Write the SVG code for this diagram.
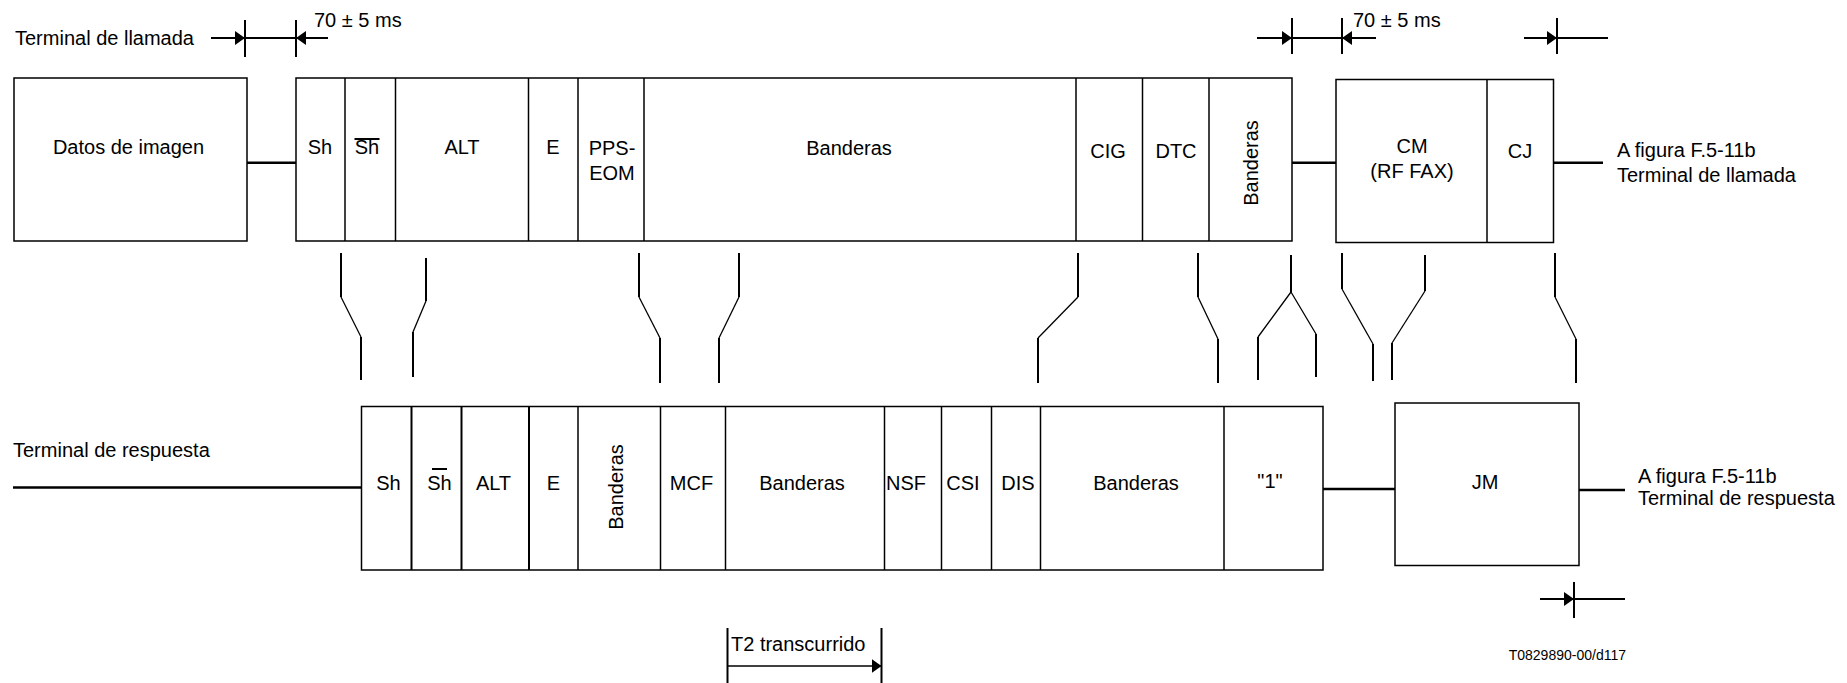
<svg xmlns="http://www.w3.org/2000/svg" width="1847" height="683" viewBox="0 0 1847 683">
<style>
text{font-family:"Liberation Sans",Arial,sans-serif;font-size:20px;fill:#000}
.m{text-anchor:middle}
.box{fill:#fff;stroke:#000;stroke-width:1.5}
.div{stroke:#000;stroke-width:1.5}
.div2{stroke:#000;stroke-width:2}
.con{stroke:#000;stroke-width:2.5;fill:none}
.dim{stroke:#000;stroke-width:2;fill:none}
.sv{stroke:#000;stroke-width:2;fill:none}
.sd{stroke:#000;stroke-width:1.3;fill:none}
</style>
<defs>
<marker id="arr" markerUnits="userSpaceOnUse" markerWidth="10" markerHeight="14" refX="10" refY="7" orient="auto">
<path d="M0,0 L10,7 L0,14 z" fill="#000"/>
</marker>
</defs>

<!-- labels -->
<g id="labels">
<text x="15" y="45">Terminal de llamada</text>
<text x="314" y="27">70 ± 5 ms</text>
<text x="1353" y="27">70 ± 5 ms</text>
<text x="1617" y="157">A figura F.5-11b</text>
<text x="1617" y="182">Terminal de llamada</text>
<text x="13" y="457">Terminal de respuesta</text>
<text x="1638" y="483">A figura F.5-11b</text>
<text x="1638" y="505">Terminal de respuesta</text>
<text x="731" y="651">T2 transcurrido</text>
<text x="1626" y="660" style="font-size:14px;text-anchor:end">T0829890-00/d117</text>
</g>

<!-- dimension marks -->
<g id="dimensions">
<line class="dim" x1="211" y1="38" x2="245" y2="38" marker-end="url(#arr)"/>
<line class="dim" x1="245" y1="38" x2="296" y2="38"/>
<line class="dim" x1="328" y1="38" x2="296" y2="38" marker-end="url(#arr)"/>
<line class="dim" x1="245" y1="20" x2="245" y2="57"/>
<line class="dim" x1="296" y1="20" x2="296" y2="57"/>

<line class="dim" x1="1257" y1="38" x2="1292" y2="38" marker-end="url(#arr)"/>
<line class="dim" x1="1292" y1="38" x2="1342" y2="38"/>
<line class="dim" x1="1376" y1="38" x2="1342" y2="38" marker-end="url(#arr)"/>
<line class="dim" x1="1292" y1="18" x2="1292" y2="54"/>
<line class="dim" x1="1342" y1="18" x2="1342" y2="54"/>
<line class="dim" x1="1524" y1="38" x2="1557" y2="38" marker-end="url(#arr)"/>
<line class="dim" x1="1557" y1="38" x2="1608" y2="38"/>
<line class="dim" x1="1557" y1="18" x2="1557" y2="54"/>

<line class="dim" x1="1540" y1="599" x2="1574" y2="599" marker-end="url(#arr)"/>
<line class="dim" x1="1574" y1="599" x2="1625" y2="599"/>
<line class="dim" x1="1574" y1="582" x2="1574" y2="618"/>

<line class="dim" x1="727.5" y1="628" x2="727.5" y2="683"/>
<line class="dim" x1="881.5" y1="628" x2="881.5" y2="683"/>
<line x1="727.5" y1="666" x2="881.5" y2="666" stroke="#000" stroke-width="1.5" marker-end="url(#arr)"/>
</g>

<!-- top row -->
<g id="datos">
<rect class="box" x="14" y="78" width="233" height="163"/>
<text class="m" x="128.5" y="154">Datos de imagen</text>
</g>

<g id="top-frame">
<rect class="box" x="296" y="78" width="996" height="163"/>
<line class="div" x1="345" y1="78" x2="345" y2="241"/>
<line class="div" x1="395.5" y1="78" x2="395.5" y2="241"/>
<line class="div" x1="528.5" y1="78" x2="528.5" y2="241"/>
<line class="div" x1="578" y1="78" x2="578" y2="241"/>
<line class="div" x1="644" y1="78" x2="644" y2="241"/>
<line class="div" x1="1076" y1="78" x2="1076" y2="241"/>
<line class="div" x1="1142.5" y1="78" x2="1142.5" y2="241"/>
<line class="div" x1="1209" y1="78" x2="1209" y2="241"/>
<text class="m" x="320" y="154">Sh</text>
<text class="m" x="367" y="154">Sh</text>
<line x1="354.5" y1="139" x2="379.5" y2="139" stroke="#000" stroke-width="2"/>
<text class="m" x="462" y="154">ALT</text>
<text class="m" x="553" y="154">E</text>
<text class="m" x="612" y="155">PPS-</text>
<text class="m" x="612" y="180">EOM</text>
<text class="m" x="849" y="155">Banderas</text>
<text class="m" x="1108" y="158">CIG</text>
<text class="m" x="1176" y="158">DTC</text>
<text class="m" transform="translate(1258,163) rotate(-90)" x="0" y="0">Banderas</text>
</g>

<g id="cm-cj">
<rect class="box" x="1336" y="79.5" width="217.5" height="163"/>
<line class="div" x1="1487" y1="79.5" x2="1487" y2="242.5"/>
<text class="m" x="1412" y="153">CM</text>
<text class="m" x="1412" y="178">(RF FAX)</text>
<text class="m" x="1520" y="158">CJ</text>
</g>

<!-- bottom row -->
<g id="bottom-frame">
<rect class="box" x="361.5" y="406.5" width="961.5" height="163.5"/>
<line class="div2" x1="411.5" y1="406.5" x2="411.5" y2="570"/>
<line class="div2" x1="461.5" y1="406.5" x2="461.5" y2="570"/>
<line class="div2" x1="529" y1="406.5" x2="529" y2="570"/>
<line class="div" x1="578" y1="406.5" x2="578" y2="570"/>
<line class="div" x1="660.5" y1="406.5" x2="660.5" y2="570"/>
<line class="div" x1="725.5" y1="406.5" x2="725.5" y2="570"/>
<line class="div" x1="884.5" y1="406.5" x2="884.5" y2="570"/>
<line class="div" x1="941.5" y1="406.5" x2="941.5" y2="570"/>
<line class="div" x1="991.5" y1="406.5" x2="991.5" y2="570"/>
<line class="div" x1="1040.5" y1="406.5" x2="1040.5" y2="570"/>
<line class="div" x1="1224" y1="406.5" x2="1224" y2="570"/>
<text class="m" x="388.5" y="490">Sh</text>
<text class="m" x="439.5" y="490">Sh</text>
<line x1="432" y1="469" x2="447" y2="469" stroke="#000" stroke-width="2"/>
<text class="m" x="493.5" y="490">ALT</text>
<text class="m" x="553.5" y="490">E</text>
<text class="m" transform="translate(623,487) rotate(-90)" x="0" y="0">Banderas</text>
<text class="m" x="691.5" y="490">MCF</text>
<text class="m" x="802" y="490">Banderas</text>
<text class="m" x="906" y="490">NSF</text>
<text class="m" x="963" y="490">CSI</text>
<text class="m" x="1018" y="490">DIS</text>
<text class="m" x="1136" y="490">Banderas</text>
<text class="m" x="1270" y="488">"1"</text>
</g>

<g id="jm">
<rect class="box" x="1395" y="403" width="184" height="162.5"/>
<text class="m" x="1485" y="489">JM</text>
</g>

<!-- connectors -->
<g id="connectors">
<line class="con" x1="247" y1="162.7" x2="296" y2="162.7"/>
<line class="con" x1="1292" y1="162.7" x2="1336" y2="162.7"/>
<line class="con" x1="1553.5" y1="162.7" x2="1603" y2="162.7"/>
<line class="con" x1="13" y1="487.5" x2="361.5" y2="487.5"/>
<line class="con" x1="1323" y1="489" x2="1395" y2="489"/>
<line class="con" x1="1579" y1="490" x2="1625" y2="490"/>

<g id="switches">
<path class="sv" d="M341,253 V297 M361,337 V380"/>
<path class="sd" d="M341,297 L361,337"/>
<path class="sv" d="M426,258 V301 M413,332 V377"/>
<path class="sd" d="M426,301 L413,332"/>
<path class="sv" d="M639,253 V297 M660,338 V383"/>
<path class="sd" d="M639,297 L660,338"/>
<path class="sv" d="M739,253 V297 M719,338 V383"/>
<path class="sd" d="M739,297 L719,338"/>
<path class="sv" d="M1078,253 V297 M1038,338 V383"/>
<path class="sd" d="M1078,297 L1038,338"/>
<path class="sv" d="M1198,253 V297 M1218,339 V383"/>
<path class="sd" d="M1198,297 L1218,339"/>
<path class="sv" d="M1291,255 V292 M1258,337 V380 M1316,334 V377"/>
<path class="sd" d="M1291,292 L1258,337 M1291,292 L1316,334"/>
<path class="sv" d="M1342,253 V289 M1373,344 V381"/>
<path class="sd" d="M1342,289 L1373,344"/>
<path class="sv" d="M1425,255 V291 M1392,343 V380"/>
<path class="sd" d="M1425,291 L1392,343"/>
<path class="sv" d="M1555,253 V297 M1576,339 V383"/>
<path class="sd" d="M1555,297 L1576,339"/>
</g>
</g>
</svg>
